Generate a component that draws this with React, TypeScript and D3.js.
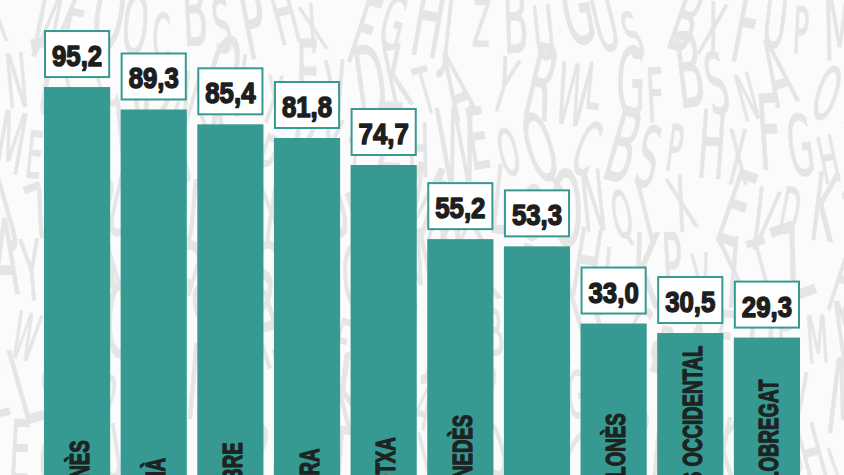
import { useEffect, useRef } from "react";
import * as d3 from "d3";

const comarques = [
  "SOLSONÈS",
  "MONTSIÀ",
  "BAIX EBRE",
  "NOGUERA",
  "GARROTXA",
  "ALT PENEDÈS",
  "OSONA",
  "BARCELONÈS",
  "VALLÈS OCCIDENTAL",
  "BAIX LLOBREGAT",
];
const valors = [95.2, 89.3, 85.4, 81.8, 74.7, 55.2, 53.3, 33.0, 30.5, 29.3];

// decorative letter texture behind the bars
const fonsLletres = "HWEOQCBSPHXFGHJZBUGUSBXFUPMNZLCONQIXEVDKTAYRWLGFBSNAOIMEQDUHJKPVXTZ".split("");

const teal = "#379a92";
const labelFont = "'Liberation Sans', Arial, sans-serif";

export default function App() {
  const svgRef = useRef<SVGSVGElement>(null);

  useEffect(() => {
    if (!svgRef.current) return;
    d3.select(svgRef.current).selectAll("*").remove();

    const width = 844;
    const height = 475;

    const svg = d3
      .select(svgRef.current)
      .attr("width", width)
      .attr("height", height)
      .attr("viewBox", `0 0 ${width} ${height}`);

    svg.append("rect").attr("width", width).attr("height", height).attr("fill", "#fbfbfb");

    // Background texture
    const bg = svg
      .append("g")
      .attr("fill", "#e5e5e5")
      .attr("stroke", "#e5e5e5")
      .attr("stroke-width", 0.8)
      .attr("stroke-linejoin", "round")
      .style("font-family", "'DejaVu Sans', sans-serif");
    const cols = 27;
    const rows = 8;
    let k = 0;
    for (let r = 0; r < rows; r++) {
      for (let c = 0; c < cols; c++) {
        const ch = fonsLletres[k % fonsLletres.length];
        const rot = ((k * 37) % 41) - 20;
        const size = 46 + ((k * 13) % 5) * 7;
        const x = c * 32 + (r % 2) * 16 - 8;
        const y = r * 62 + 46 + ((k * 7) % 3) * 7;
        bg.append("text")
          .attr("transform", `translate(${x},${y}) rotate(${rot}) scale(0.55,1.4)`)
          .attr("font-size", size)
          .text(ch);
        k++;
      }
    }

    const x = d3
      .scaleBand()
      .domain(comarques)
      .range([38.75, 805.25])
      .paddingInner(0.137)
      .paddingOuter(0.0685);

    const y = d3.scaleLinear().domain([0, 100]).range([449, 68.8]);

    const data = comarques.map((c, i) => ({ c, v: valors[i] }));
    const fmt = (v: number) => d3.format(".1f")(v).replace(".", ",");

    // Bars, running off the bottom edge
    svg
      .append("g")
      .selectAll("rect")
      .data(data)
      .enter()
      .append("rect")
      .attr("x", (d) => x(d.c)!)
      .attr("y", (d) => y(d.v))
      .attr("width", x.bandwidth())
      .attr("height", (d) => height + 10 - y(d.v))
      .attr("fill", teal);

    // measure the label font so the condensed width matches the print
    const probe = svg
      .append("text")
      .attr("font-family", labelFont)
      .attr("font-weight", "bold")
      .attr("font-size", 27)
      .text("OCCIDENTAL");
    const probeW = (probe.node() as SVGTextElement).getComputedTextLength() || 170;
    probe.remove();
    const sx = 121 / probeW;

    // Category labels (rotated, clipped by the frame)
    svg
      .append("g")
      .selectAll("text")
      .data(data)
      .enter()
      .append("text")
      .attr(
        "transform",
        (d) => `translate(${x(d.c)! + x.bandwidth() / 2 + 11.5},544) rotate(-90) scale(${sx},1)`
      )
      .attr("font-family", labelFont)
      .attr("font-weight", "bold")
      .attr("font-size", 27)
      .attr("fill", "#1c2422")
      .attr("stroke", "#1c2422")
      .attr("stroke-width", 1.3)
      .attr("stroke-linejoin", "round")
      .text((d) => d.c);

    // Value boxes
    const boxes = svg
      .append("g")
      .selectAll("g")
      .data(data)
      .enter()
      .append("g")
      .attr("transform", (d) => `translate(${x(d.c)! + 1},${y(d.v) - 56})`);

    boxes
      .append("rect")
      .attr("width", x.bandwidth() - 2)
      .attr("height", 46)
      .attr("fill", "#ffffff")
      .attr("stroke", teal)
      .attr("stroke-width", 2);

    boxes
      .append("text")
      .attr("transform", `translate(${(x.bandwidth() - 2) / 2},35) scale(0.86,1)`)
      .attr("text-anchor", "middle")
      .attr("font-family", labelFont)
      .attr("font-weight", "bold")
      .attr("font-size", 30)
      .attr("fill", "#1e1e1e")
      .attr("stroke", "#1e1e1e")
      .attr("stroke-width", 1.5)
      .attr("stroke-linejoin", "round")
      .text((d) => fmt(d.v));
  }, []);

  return (
    <div style={{ position: "absolute", left: 0, top: 0, width: 844, height: 475, overflow: "hidden" }}>
      <svg ref={svgRef} style={{ display: "block" }}></svg>
    </div>
  );
}
